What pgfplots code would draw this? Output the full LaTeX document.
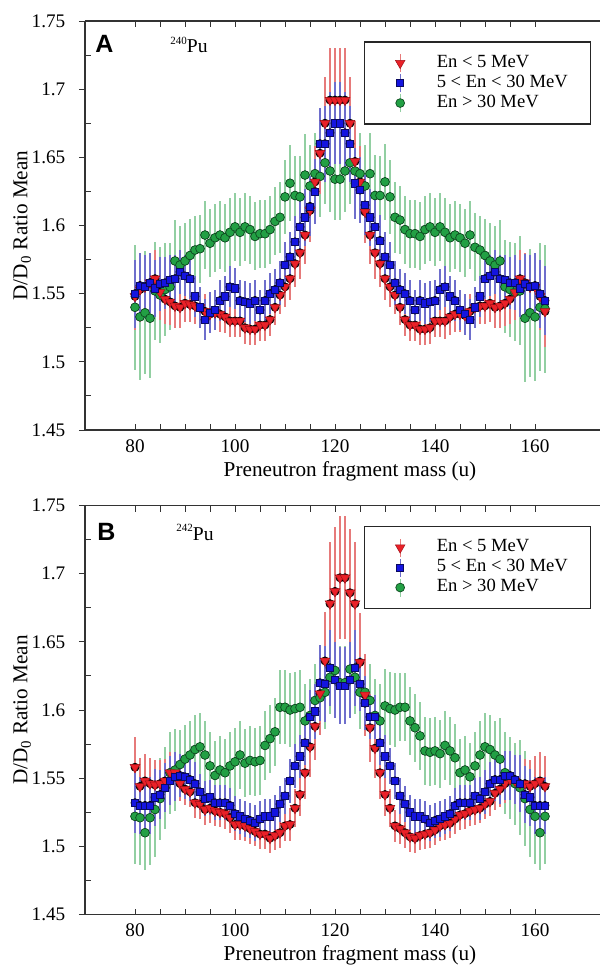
\documentclass[border=0pt]{standalone}
\usepackage{pgfplots}
\pgfplotsset{compat=1.18}
\usepackage{pgfplotstable}
\usepackage{fontspec}
\setmainfont{Liberation Serif}
\newfontfamily\sansf{Liberation Sans}

\definecolor{mred}{HTML}{EA2128}
\definecolor{mredE}{HTML}{A01018}
\definecolor{mblue}{HTML}{1414E0}
\definecolor{mblueE}{HTML}{0A0A60}
\definecolor{mgreen}{HTML}{22A044}
\definecolor{mgreenE}{HTML}{0E4A20}
\definecolor{ered}{HTML}{E67A7A}
\definecolor{eblue}{HTML}{6E6ECC}
\definecolor{egreen}{HTML}{92CFA2}

% ---------------- Panel A (240Pu) ----------------
\pgfplotstableread{
x y e
80 1.548 .025
81 1.553 .024
82 1.555 .023
83 1.558 .022
84 1.561 .021
85 1.551 .020
86 1.546 .018
87 1.544 .017
88 1.541 .016
89 1.540 .015
90 1.543 .014
91 1.542 .013
92 1.541 .013
93 1.540 .013
94 1.537 .013
95 1.535 .013
96 1.536 .013
97 1.535 .013
98 1.533 .012
99 1.530 .012
100 1.530 .012
101 1.530 .012
102 1.525 .012
103 1.524 .012
104 1.524 .012
105 1.527 .012
106 1.527 .012
107 1.531 .012
108 1.540 .013
109 1.549 .014
110 1.555 .015
111 1.561 .016
112 1.572 .017
113 1.580 .019
114 1.593 .021
115 1.611 .023
116 1.632 .026
117 1.653 .030
118 1.675 .034
119 1.692 .038
120 1.692 .038
121 1.692 .038
122 1.692 .038
123 1.675 .034
124 1.647 .030
125 1.632 .026
126 1.610 .023
127 1.593 .021
128 1.580 .019
129 1.572 .017
130 1.561 .016
131 1.555 .015
132 1.549 .014
133 1.540 .013
134 1.531 .012
135 1.527 .012
136 1.527 .012
137 1.524 .012
138 1.524 .012
139 1.525 .012
140 1.530 .012
141 1.530 .012
142 1.530 .013
143 1.533 .013
144 1.535 .013
145 1.535 .013
146 1.534 .013
147 1.537 .013
148 1.540 .013
149 1.541 .013
150 1.541 .013
151 1.543 .014
152 1.540 .015
153 1.541 .016
154 1.543 .017
155 1.546 .018
156 1.551 .020
157 1.561 .021
158 1.558 .022
159 1.555 .023
160 1.555 .024
161 1.548 .025
162 1.537 .026
}\rA

\pgfplotstableread{
x y e
80 1.550 .025
81 1.556 .024
82 1.555 .023
83 1.558 .022
84 1.554 .021
85 1.557 .020
86 1.558 .019
87 1.560 .018
88 1.561 .017
89 1.566 .016
90 1.563 .015
91 1.561 .015
92 1.548 .015
93 1.540 .015
94 1.531 .015
95 1.536 .015
96 1.538 .015
97 1.545 .015
98 1.548 .015
99 1.555 .015
100 1.554 .015
101 1.545 .015
102 1.544 .015
103 1.543 .015
104 1.545 .015
105 1.538 .015
106 1.545 .015
107 1.550 .015
108 1.553 .015
109 1.558 .016
110 1.571 .017
111 1.577 .018
112 1.588 .019
113 1.599 .020
114 1.606 .021
115 1.614 .022
116 1.625 .024
117 1.660 .026
118 1.660 .028
119 1.668 .030
120 1.675 .030
121 1.675 .030
122 1.668 .030
123 1.660 .028
124 1.631 .026
125 1.626 .024
126 1.615 .022
127 1.606 .021
128 1.599 .020
129 1.589 .019
130 1.577 .018
131 1.571 .017
132 1.558 .016
133 1.553 .015
134 1.550 .015
135 1.545 .015
136 1.538 .015
137 1.545 .015
138 1.543 .015
139 1.544 .015
140 1.545 .015
141 1.553 .015
142 1.555 .015
143 1.548 .015
144 1.545 .015
145 1.538 .015
146 1.535 .015
147 1.531 .015
148 1.540 .015
149 1.548 .015
150 1.561 .015
151 1.563 .015
152 1.566 .016
153 1.561 .017
154 1.560 .018
155 1.558 .019
156 1.558 .020
157 1.554 .021
158 1.557 .022
159 1.555 .023
160 1.556 .024
161 1.550 .025
162 1.545 .025
}\bA

\pgfplotstableread{
x y e
80 1.540 .046
81 1.533 .046
82 1.536 .045
83 1.532 .044
84 1.552 .036
85 1.549 .035
86 1.553 .034
87 1.555 .032
88 1.574 .030
89 1.571 .029
90 1.574 .028
91 1.578 .027
92 1.582 .025
93 1.583 .025
94 1.593 .025
95 1.587 .025
96 1.591 .025
97 1.593 .025
98 1.591 .025
99 1.595 .025
100 1.599 .025
101 1.595 .025
102 1.599 .025
103 1.597 .025
104 1.592 .025
105 1.594 .025
106 1.594 .025
107 1.597 .025
108 1.603 .025
109 1.606 .026
110 1.621 .027
111 1.631 .028
112 1.622 .029
113 1.621 .030
114 1.637 .030
115 1.629 .030
116 1.638 .030
117 1.636 .030
118 1.646 .030
119 1.640 .030
120 1.634 .030
121 1.634 .030
122 1.640 .030
123 1.646 .030
124 1.640 .030
125 1.638 .030
126 1.629 .030
127 1.638 .030
128 1.622 .030
129 1.622 .029
130 1.632 .028
131 1.621 .027
132 1.606 .026
133 1.604 .025
134 1.597 .025
135 1.594 .025
136 1.594 .025
137 1.592 .025
138 1.597 .025
139 1.599 .025
140 1.595 .025
141 1.599 .025
142 1.595 .025
143 1.591 .025
144 1.593 .025
145 1.591 .025
146 1.587 .025
147 1.593 .025
148 1.584 .025
149 1.582 .025
150 1.578 .027
151 1.574 .028
152 1.571 .029
153 1.574 .030
154 1.555 .034
155 1.553 .035
156 1.551 .036
157 1.552 .040
158 1.532 .047
159 1.536 .047
160 1.533 .047
161 1.540 .047
162 1.539 .047
}\gA

% ---------------- Panel B (242Pu) ----------------
\pgfplotstableread{
x y e
80 1.558 .022
81 1.544 .021
82 1.548 .020
83 1.546 .019
84 1.545 .018
85 1.546 .017
86 1.548 .016
87 1.554 .015
88 1.554 .014
89 1.546 .013
90 1.542 .012
91 1.540 .011
92 1.532 .011
93 1.531 .011
94 1.527 .011
95 1.528 .011
96 1.526 .011
97 1.525 .011
98 1.524 .011
99 1.521 .011
100 1.516 .011
101 1.516 .011
102 1.515 .011
103 1.513 .011
104 1.511 .011
105 1.509 .011
106 1.509 .011
107 1.506 .011
108 1.508 .011
109 1.510 .011
110 1.515 .011
111 1.516 .012
112 1.528 .014
113 1.538 .016
114 1.554 .019
115 1.573 .022
116 1.588 .025
117 1.612 .030
118 1.636 .036
119 1.678 .045
120 1.687 .047
121 1.697 .045
122 1.697 .045
123 1.686 .047
124 1.678 .045
125 1.635 .036
126 1.611 .030
127 1.587 .025
128 1.572 .022
129 1.554 .019
130 1.538 .016
131 1.528 .014
132 1.515 .012
133 1.513 .011
134 1.510 .011
135 1.507 .011
136 1.506 .011
137 1.508 .011
138 1.509 .011
139 1.510 .011
140 1.512 .011
141 1.515 .011
142 1.516 .011
143 1.517 .011
144 1.520 .011
145 1.523 .011
146 1.524 .011
147 1.526 .011
148 1.527 .011
149 1.528 .011
150 1.531 .011
151 1.533 .011
152 1.539 .012
153 1.542 .013
154 1.546 .014
155 1.549 .015
156 1.548 .016
157 1.546 .017
158 1.546 .018
159 1.544 .019
160 1.546 .020
161 1.548 .021
162 1.544 .022
}\rB

\pgfplotstableread{
x y e
80 1.532 .022
81 1.530 .021
82 1.530 .021
83 1.530 .021
84 1.536 .021
85 1.538 .018
86 1.543 .018
87 1.548 .018
88 1.551 .018
89 1.552 .016
90 1.551 .016
91 1.549 .016
92 1.546 .016
93 1.540 .013
94 1.535 .013
95 1.536 .013
96 1.532 .013
97 1.532 .013
98 1.532 .013
99 1.530 .013
100 1.524 .013
101 1.522 .013
102 1.520 .013
103 1.519 .013
104 1.517 .013
105 1.520 .013
106 1.522 .013
107 1.522 .013
108 1.525 .013
109 1.531 .013
110 1.537 .013
111 1.548 .016
112 1.559 .016
113 1.566 .016
114 1.576 .016
115 1.595 .020
116 1.599 .020
117 1.620 .028
118 1.619 .028
119 1.631 .028
120 1.622 .028
121 1.618 .028
122 1.618 .028
123 1.622 .028
124 1.631 .028
125 1.619 .020
126 1.605 .020
127 1.595 .016
128 1.595 .016
129 1.576 .016
130 1.566 .016
131 1.559 .013
132 1.548 .013
133 1.537 .013
134 1.531 .013
135 1.525 .013
136 1.522 .013
137 1.522 .013
138 1.520 .013
139 1.517 .013
140 1.519 .013
141 1.520 .013
142 1.522 .013
143 1.524 .013
144 1.530 .013
145 1.532 .013
146 1.532 .013
147 1.532 .013
148 1.537 .013
149 1.535 .016
150 1.540 .016
151 1.546 .016
152 1.549 .016
153 1.549 .018
154 1.552 .018
155 1.552 .018
156 1.549 .018
157 1.546 .021
158 1.538 .021
159 1.536 .021
160 1.530 .021
161 1.530 .021
162 1.530 .021
}\bB

\pgfplotstableread{
x y e
80 1.522 .035
81 1.521 .035
82 1.510 .027
83 1.521 .035
84 1.527 .035
85 1.535 .030
86 1.543 .030
87 1.554 .030
88 1.556 .030
89 1.560 .025
90 1.564 .025
91 1.567 .025
92 1.571 .025
93 1.573 .025
94 1.567 .025
95 1.559 .025
96 1.552 .025
97 1.556 .025
98 1.554 .025
99 1.559 .025
100 1.562 .025
101 1.567 .025
102 1.561 .025
103 1.563 .025
104 1.562 .025
105 1.563 .025
106 1.574 .025
107 1.579 .025
108 1.584 .025
109 1.602 .027
110 1.602 .027
111 1.600 .027
112 1.601 .027
113 1.602 .027
114 1.592 .027
115 1.596 .027
116 1.607 .027
117 1.609 .027
118 1.613 .027
119 1.624 .027
120 1.629 .027
121 1.620 .027
122 1.620 .027
123 1.630 .027
124 1.624 .027
125 1.613 .027
126 1.613 .027
127 1.607 .027
128 1.596 .027
129 1.592 .027
130 1.603 .027
131 1.601 .027
132 1.600 .027
133 1.602 .025
134 1.602 .025
135 1.592 .025
136 1.587 .025
137 1.581 .025
138 1.570 .025
139 1.569 .025
140 1.570 .025
141 1.568 .025
142 1.574 .025
143 1.570 .025
144 1.565 .025
145 1.554 .025
146 1.556 .025
147 1.551 .025
148 1.559 .025
149 1.567 .025
150 1.573 .025
151 1.571 .025
152 1.567 .025
153 1.564 .030
154 1.554 .030
155 1.550 .030
156 1.546 .030
157 1.543 .035
158 1.535 .035
159 1.527 .035
160 1.522 .035
161 1.510 .027
162 1.522 .035
}\gB

\pgfplotsset{
  mypanel/.style={
    scale only axis, width=257.5pt, height=204.5pt,
    xmin=70, xmax=173, ymin=1.45, ymax=1.75,
    axis y line*=left,
    xtick={80,100,120,140,160}, xticklabels={80,100,120,140,160},
    minor x tick num=3,
    ytick={1.45,1.5,1.55,1.6,1.65,1.7,1.75},
    yticklabels={1.45,1.5,1.55,1.6,1.65,1.7,1.75},
    extra y ticks={1.475,1.525,1.575,1.625,1.675,1.725},
    extra y tick labels={},
    extra y tick style={ytick align=inside, major tick length=3pt},
    xtick align=inside, ytick align=outside,
    major tick length=3pt, minor tick length=3pt,
    tick style={black!80, line width=0.5pt},
    axis line style={black!80, line width=0.6pt},
    /pgf/number format/assume math mode=true,
    ticklabel style={font=\fontsize{9.6}{11}\selectfont},
    xticklabel style={inner sep=1pt, yshift=-3.5pt},
    yticklabel style={xshift=-3.3pt},
    xlabel={Preneutron fragment mass (u)},
    ylabel={D/D\textsubscript{0} Ratio Mean},
    every axis x label/.style={at={(axis description cs:0.5146,0)}, anchor=base, yshift=-23pt, inner sep=0pt, font=\fontsize{10.6}{12}\selectfont},
    every axis y label/.style={at={(axis description cs:-0.1117,0.5)}, rotate=90, anchor=base, font=\fontsize{10.6}{12}\selectfont},
    legend cell align=left,
    legend style={at={(axis description cs:0.5417,0.95)}, anchor=north west,
      draw=black!85, line width=0.6pt, fill=white,
      inner xsep=0pt, inner ysep=5.5pt, row sep=0pt,
      font=\fontsize{9.3}{11}\selectfont,
      nodes={inner sep=0pt, text height=7pt, text depth=3pt}},
  },
  errR/.style={forget plot, only marks, mark=none, error bars/.cd, y dir=both, y explicit, error mark=none, error bar style={ered, line width=0.6pt}},
  errB/.style={forget plot, only marks, mark=none, error bars/.cd, y dir=both, y explicit, error mark=none, error bar style={eblue, line width=0.6pt}},
  errG/.style={forget plot, only marks, mark=none, error bars/.cd, y dir=both, y explicit, error mark=none, error bar style={egreen, line width=0.6pt}},
  mkR/.style={forget plot, only marks, mark=triangle*, mark size=2.8pt, mark options={rotate=180, fill=mred, draw=mredE, line width=0.25pt, line join=miter}},
  mkB/.style={forget plot, only marks, mark=square*, mark size=1.8pt, mark options={fill=mblue, draw=mblueE, line width=0.3pt}},
  mkG/.style={forget plot, only marks, mark=*, mark size=2.2pt, mark options={fill=mgreen, draw=mgreenE, line width=0.35pt}},
}

\newcommand\mylegend{%
  \addlegendimage{legend image code/.code={
    \path (-17.5pt,0pt) (18pt,0pt);
    \draw[ered, line width=0.6pt] (0pt,-4.5pt) -- (0pt,4.5pt);
    \draw plot[only marks, mark=triangle*, mark size=2.8pt, mark options={rotate=180, fill=mred, draw=mredE, line width=0.25pt, line join=miter}] coordinates {(0pt,0pt)};}}
  \addlegendentry{\makebox[77pt][l]{En < 5 MeV}}
  \addlegendimage{legend image code/.code={
    \path (-17.5pt,0pt) (18pt,0pt);
    \draw[eblue, line width=0.6pt] (0pt,-4.5pt) -- (0pt,4.5pt);
    \draw plot[only marks, mark=square*, mark size=1.8pt, mark options={fill=mblue, draw=mblueE, line width=0.3pt}] coordinates {(0pt,0pt)};}}
  \addlegendentry{\makebox[77pt][l]{5 < En < 30 MeV}}
  \addlegendimage{legend image code/.code={
    \path (-17.5pt,0pt) (18pt,0pt);
    \draw[egreen, line width=0.6pt] (0pt,-4.5pt) -- (0pt,4.5pt);
    \draw plot[only marks, mark=*, mark size=2.2pt, mark options={fill=mgreen, draw=mgreenE, line width=0.35pt}] coordinates {(0pt,0pt)};}}
  \addlegendentry{\makebox[77pt][l]{En > 30 MeV}}%
}

\begin{document}
\begin{tikzpicture}
\useasboundingbox (-42.5pt,-272pt) rectangle (257.5pt,215pt);

\begin{axis}[mypanel, at={(0pt,0pt)}, anchor=south west]
  \addplot[errG] table[x=x, y=y, y error=e] {\gA};
  \addplot[errR] table[x=x, y=y, y error=e] {\rA};
  \addplot[errB] table[x=x, y=y, y error=e] {\bA};
  \addplot[mkG] table[x=x, y=y] {\gA};
  \addplot[mkR] table[x=x, y=y] {\rA};
  \addplot[mkB] table[x=x, y=y] {\bA};
  \mylegend
  \node[anchor=base west, inner sep=0pt, font=\sansf\bfseries\fontsize{12.5}{14}\selectfont] at (axis description cs:0.0194,0.9218) {A};
  \node[anchor=base west, inner sep=0pt, font=\fontsize{9.8}{11}\selectfont] at (axis description cs:0.165,0.9218) {\raisebox{4.3pt}{\fontsize{5.5}{6}\selectfont 240}Pu};
\end{axis}

\begin{axis}[mypanel, at={(0pt,-242.25pt)}, anchor=south west]
  \addplot[errG] table[x=x, y=y, y error=e] {\gB};
  \addplot[errR] table[x=x, y=y, y error=e] {\rB};
  \addplot[errB] table[x=x, y=y, y error=e] {\bB};
  \addplot[mkG] table[x=x, y=y] {\gB};
  \addplot[mkR] table[x=x, y=y] {\rB};
  \addplot[mkB] table[x=x, y=y] {\bB};
  \mylegend
  \node[anchor=base west, inner sep=0pt, font=\sansf\bfseries\fontsize{12.5}{14}\selectfont] at (axis description cs:0.0233,0.9156) {B};
  \node[anchor=base west, inner sep=0pt, font=\fontsize{9.8}{11}\selectfont] at (axis description cs:0.1767,0.9156) {\raisebox{4.3pt}{\fontsize{5.5}{6}\selectfont 242}Pu};
\end{axis}
\end{tikzpicture}
\end{document}
